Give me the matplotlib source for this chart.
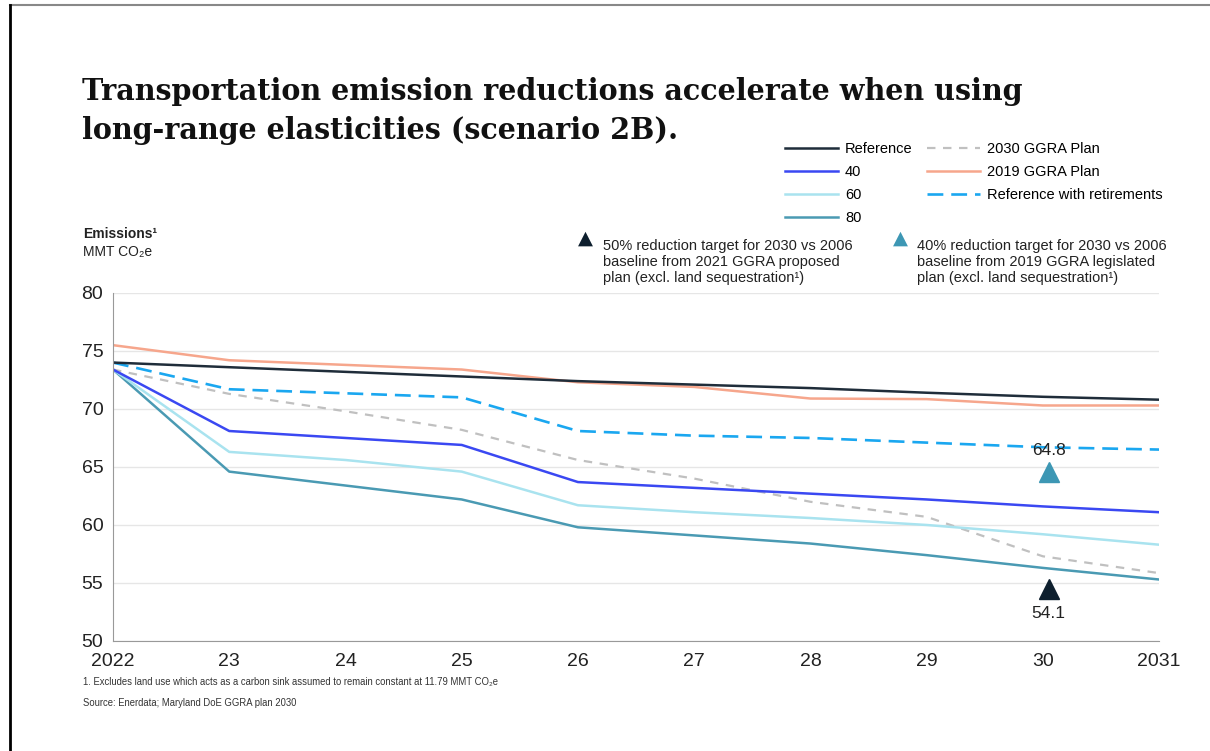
import matplotlib.pyplot as plt
from matplotlib.lines import Line2D

plt.rcParams['font.family'] = ['Liberation Sans', 'DejaVu Sans']

# -------------------- data --------------------
years = [2022, 2023, 2024, 2025, 2026, 2027, 2028, 2029, 2030, 2031]
tick_labels = ['2022', '23', '24', '25', '26', '27', '28', '29', '30', '2031']

reference = [74.0, 73.6, 73.2, 72.8, 72.4, 72.1, 71.8, 71.4, 71.05, 70.8]
el_40 = [73.4, 68.1, 67.5, 66.9, 63.7, 63.2, 62.7, 62.2, 61.6, 61.1]
el_60 = [73.4, 66.3, 65.6, 64.6, 61.7, 61.1, 60.6, 60.0, 59.2, 58.3]
el_80 = [73.4, 64.6, 63.4, 62.2, 59.8, 59.1, 58.4, 57.4, 56.3, 55.3]
ggra_2030 = [73.4, 71.3, 69.8, 68.2, 65.6, 64.0, 62.0, 60.7, 57.3, 55.85]
ggra_2019 = [75.5, 74.2, 73.8, 73.4, 72.3, 71.9, 70.9, 70.85, 70.3, 70.3]
ref_retire = [74.0, 71.7, 71.35, 71.0, 68.1, 67.7, 67.5, 67.1, 66.7, 66.5]

target_year = 2030
target_40 = 64.8   # 2019 GGRA legislated plan
target_50 = 54.1   # 2021 GGRA proposed plan

# -------------------- figure --------------------
fig = plt.figure(figsize=(12.1, 7.51), dpi=100)
ax = fig.add_axes([0.0934, 0.1465, 0.8645, 0.4634])

ax.plot(years, ggra_2030, color='#c0c0c0', lw=1.6, dashes=(3.8, 3.4), label='2030 GGRA Plan')
ax.plot(years, ggra_2019, color='#f6a68c', lw=1.8, label='2019 GGRA Plan')
ax.plot(years, ref_retire, color='#1aa7f0', lw=1.9, dashes=(6, 3), label='Reference with retirements')
ax.plot(years, el_80, color='#4a9ab3', lw=1.8, label='80')
ax.plot(years, el_60, color='#a9e3ef', lw=1.8, label='60')
ax.plot(years, el_40, color='#3a48f2', lw=1.8, label='40')
ax.plot(years, reference, color='#1f2d3a', lw=1.8, label='Reference')

ax.plot([target_year + 0.05], [target_40 - 0.2], marker='^', ms=15, color='#3d97b4', ls='none')
ax.plot([target_year + 0.05], [target_50 + 0.4], marker='^', ms=15, color='#0e1f2e', ls='none')
ax.text(target_year + 0.05, target_40 + 1.6, f'{target_40}', ha='center', va='center', fontsize=12.5, color='#222222')
ax.text(target_year + 0.05, target_50 - 1.7, f'{target_50}', ha='center', va='center', fontsize=12.5, color='#222222')

ax.set_xlim(2022, 2031)
ax.set_ylim(50, 80)
ax.set_yticks([50, 55, 60, 65, 70, 75, 80])
ax.set_xticks(years)
ax.set_xticklabels(tick_labels)
ax.tick_params(axis='both', length=0, labelsize=14, colors='#222222')
ax.tick_params(axis='x', pad=9)
ax.tick_params(axis='y', pad=7)
ax.grid(axis='y', color='#e6e6e6', lw=1)
ax.set_axisbelow(True)
for s in ['top', 'right']:
    ax.spines[s].set_visible(False)
ax.spines['left'].set_color('#999999')
ax.spines['bottom'].set_color('#999999')

# legend: build in the order of the reference (column-wise)
order = ['Reference', '40', '60', '80', '2030 GGRA Plan', '2019 GGRA Plan', 'Reference with retirements']
handles, labels = ax.get_legend_handles_labels()
hmap = dict(zip(labels, handles))
fig.legend([hmap[k] for k in order], order, ncol=2, loc='upper left',
           bbox_to_anchor=(0.649, 0.811), frameon=False, fontsize=10.5,
           handlelength=3.6, handletextpad=0.5, columnspacing=1.0,
           labelspacing=0.62, borderaxespad=0, borderpad=0)

# title (one text per line)
title_kw = dict(fontsize=20.6, fontweight='bold', family='DejaVu Serif', va='baseline',
                ha='left', color='#111111')
fig.text(0.068, 0.867, 'Transportation emission reductions accelerate when using', **title_kw)
fig.text(0.068, 0.815, 'long-range elasticities (scenario 2B).', **title_kw)

# axis caption
fig.text(0.069, 0.683, 'Emissions¹', fontsize=10, fontweight='bold', color='#222222')
fig.text(0.069, 0.659, 'MMT CO₂e', fontsize=10, color='#222222')

# target notes
fig.text(0.478, 0.676, '▲', fontsize=14, color='#0e1f2e', family='DejaVu Sans')
fig.text(0.498, 0.624, '50% reduction target for 2030 vs 2006\n'
         'baseline from 2021 GGRA proposed\nplan (excl. land sequestration¹)',
         fontsize=10.5, color='#222222', linespacing=1.22)
fig.text(0.738, 0.676, '▲', fontsize=14, color='#3d97b4', family='DejaVu Sans')
fig.text(0.758, 0.624, '40% reduction target for 2030 vs 2006\n'
         'baseline from 2019 GGRA legislated\nplan (excl. land sequestration¹)',
         fontsize=10.5, color='#222222', linespacing=1.22)

# footnotes
fig.text(0.069, 0.088, '1. Excludes land use which acts as a carbon sink assumed to remain constant at 11.79 MMT CO₂e',
         fontsize=6.85, color='#333333')
fig.text(0.069, 0.060, 'Source: Enerdata; Maryland DoE GGRA plan 2030', fontsize=6.85, color='#333333')

# slide frame
fig.add_artist(Line2D([0.008, 1.0], [0.993, 0.993], transform=fig.transFigure, color='#888888', lw=1.5))
fig.add_artist(Line2D([0.008, 0.008], [0.0, 0.993], transform=fig.transFigure, color='black', lw=2))

fig.savefig('out.png', dpi=100)
